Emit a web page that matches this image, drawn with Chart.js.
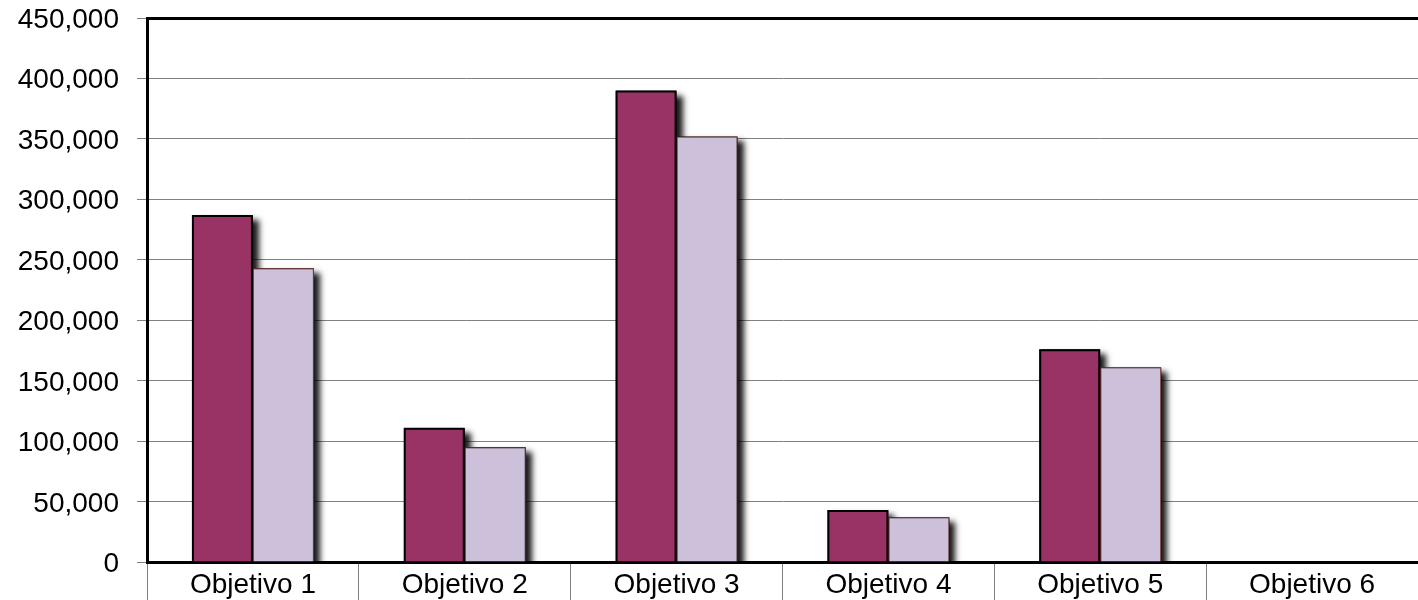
<!DOCTYPE html>
<html>
<head>
<meta charset="utf-8">
<title>Objetivos</title>
<script src="https://cdn.jsdelivr.net/npm/chart.js@4.4.1/dist/chart.umd.min.js"></script>
<style>
    html, body { margin: 0; padding: 0; background: #fff; }
    #wrap { width: 1418px; height: 600px; position: relative; }
</style>
</head>
<body>
<div id="wrap"><canvas id="objChart"></canvas></div>
<script>
// --- Data ---
const categories = ['Objetivo 1', 'Objetivo 2', 'Objetivo 3', 'Objetivo 4', 'Objetivo 5', 'Objetivo 6'];
const serieA = [287000, 111000, 390000, 43000, 176000, 0];
const serieB = [243000, 95000, 352000, 37000, 161000, 0];
const yTicks = [0, 50000, 100000, 150000, 200000, 250000, 300000, 350000, 400000, 450000];

const Y_MAX = yTicks[yTicks.length - 1];
const GRID_GREY = '#808080';
const LABEL_FONT = '28px "Liberation Sans", Arial, sans-serif';

const fmt = v => v.toLocaleString('en-US');

// bars are drawn dataset 0 first so the second series sits over the first one's shadow
const shadowBars = {
    id: 'shadowBars',
    beforeDatasetsDraw(chart) {
        const ctx = chart.ctx;
        const area = chart.chartArea;
        chart.getSortedVisibleDatasetMetas()
            .sort((a, b) => a.index - b.index)
            .forEach(meta => {
                ctx.save();
                ctx.beginPath();
                ctx.rect(area.left, area.top - 20, area.right - area.left + 20, area.bottom - area.top + 20);
                ctx.clip();
                ctx.shadowColor = 'rgba(0, 0, 0, 0.9)';
                ctx.shadowBlur = 6;
                ctx.shadowOffsetX = 6;
                ctx.shadowOffsetY = 5;
                ctx.fillStyle = '#000';
                meta.data.forEach(bar => {
                    const p = bar.getProps(['x', 'y', 'base', 'width'], true);
                    const h = Math.abs(p.base - p.y);
                    if (h < 1) return;
                    ctx.fillRect(p.x - p.width / 2, Math.min(p.y, p.base), p.width, h);
                });
                ctx.restore();
                meta.controller.draw();
            });
        return false;
    }
};

// axis labels, placed from the scales' tick pixels
const axisLabels = {
    id: 'axisLabels',
    afterDraw(chart) {
        const ctx = chart.ctx;
        const xs = chart.scales.x;
        const ys = chart.scales.y;
        ctx.save();
        ctx.fillStyle = '#000';
        ctx.font = LABEL_FONT;
        ctx.textBaseline = 'alphabetic';

        ctx.textAlign = 'right';
        ys.ticks.forEach((t, i) => {
            ctx.fillText(fmt(t.value), ys.right - 28, ys.getPixelForTick(i) + 10);
        });

        ctx.textAlign = 'center';
        xs.ticks.forEach((t, i) => {
            ctx.fillText(categories[i], xs.getPixelForTick(i), xs.top + 30.5);
        });
        ctx.restore();
    }
};

new Chart(document.getElementById('objChart'), {
    type: 'bar',
    data: {
        labels: categories,
        datasets: [
            {
                data: serieA,
                backgroundColor: '#993366',
                borderColor: '#000000',
                borderWidth: 2
            },
            {
                data: serieB,
                backgroundColor: '#CCC0DA',
                borderColor: '#8B3A3A',
                borderWidth: 1
            }
        ]
    },
    options: {
        responsive: true,
        maintainAspectRatio: false,
        animation: false,
        layout: { padding: { top: 18, right: 0, bottom: 0, left: 0 } },
        datasets: {
            bar: { categoryPercentage: 0.576, barPercentage: 1.0 }
        },
        plugins: {
            legend: { display: false },
            tooltip: { enabled: false }
        },
        scales: {
            x: {
                grid: {
                    offset: true,
                    drawOnChartArea: false,
                    tickLength: 38,
                    color: GRID_GREY,
                    lineWidth: 1
                },
                border: { color: '#000000', width: 3 },
                ticks: { display: false },
                afterFit(scale) { scale.height = 38; }
            },
            y: {
                min: 0,
                max: Y_MAX,
                afterBuildTicks(scale) {
                    scale.ticks = yTicks.map(v => ({ value: v }));
                },
                grid: {
                    color: c => (c.tick && c.tick.value === Y_MAX ? '#000000' : GRID_GREY),
                    lineWidth: c => (c.tick && c.tick.value === Y_MAX ? 3 : 1),
                    tickColor: GRID_GREY,
                    tickWidth: 1,
                    tickLength: 10
                },
                border: { color: '#000000', width: 3 },
                ticks: { display: false },
                afterFit(scale) { scale.width = 147; }
            }
        }
    },
    plugins: [shadowBars, axisLabels]
});
</script>
</body>
</html>
